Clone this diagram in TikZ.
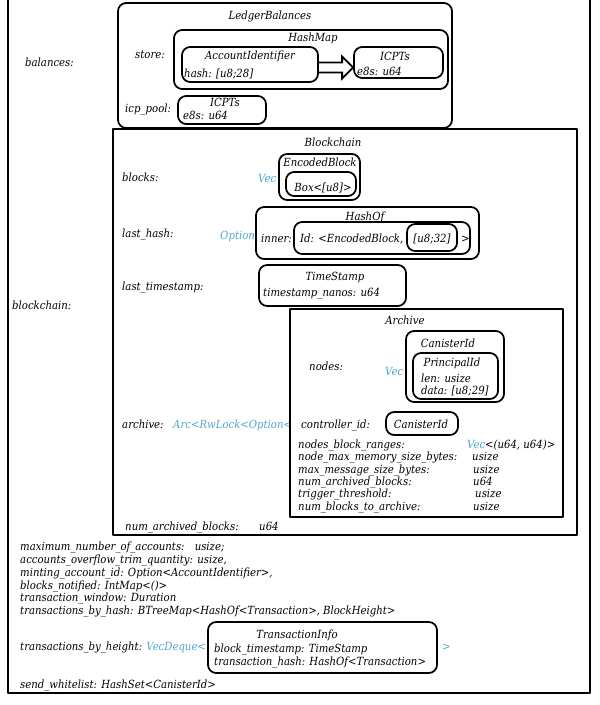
\documentclass[tikz,border=0pt]{standalone}
\usepackage{fontspec}
\setmainfont{DejaVu Serif Condensed}
\usetikzlibrary{positioning, fit, calc}
\definecolor{typeblue}{RGB}{80,165,205}
\tikzset{
    every node/.style={font=\fontsize{9.6}{11}\selectfont\itshape}, % All labels in italics
    field/.style={anchor=base west, inner sep=0pt}, % Field names and values
    title/.style={anchor=base, inner sep=0pt}, % Struct names
    wrap/.style={field, text=typeblue}, % Generic wrappers (Vec, Option, ...)
    rbox/.style={draw, line width=1.5pt, rounded corners=7pt, inner sep=0pt},
    sbox/.style={draw, line width=1.5pt, inner sep=0pt},
}

\begin{document}
\begin{tikzpicture}[
    x=0.03cm, y=-0.03cm, % one unit = one pixel of the reference
    line join=round
]
    \useasboundingbox (0,0) rectangle (600,705);

    % --- Ledger frame ---
    \node[sbox, fit={(8,-4) (590,693)}] (ledger) {};

    % --- LedgerBalances ---
    \node[field] (balances) at (25,67) {balances:};
    \node[rbox, fit={(118,3) (452,128)}] (ledgerbal) {};
    \node[title] (ledgerbalT) at (270,20) {LedgerBalances};
    \node[field] (store) at (135,59) {store:};
    \node[rbox, fit={(174,30) (448,89)}] (hashmap) {};
    \node[title] (hashmapT) at (313,42) {HashMap};
    \node[rbox, fit={(182,47) (318,82)}] (acct) {};
    \node[title] (acctT) at (250,60) {AccountIdentifier};
    \node[field] (acctH) at (184,78) {hash: [u8;28]};
    \node[rbox, fit={(354,47) (443,78)}] (icpt) {};
    \node[title] (icptT) at (395,61) {ICPTs};
    \node[field] (icptE) at (357,76) {e8s: u64};
    \node[field] (pool) at (125,113) {icp\_pool:};
    \node[rbox, fit={(178,96) (266,124)}] (poolbox) {};
    \node[title] (poolT) at (225,107) {ICPTs};
    \node[field] (poolE) at (183,120) {e8s: u64};

    % key -> value
    \coordinate (tip) at ($(icpt.west)+(0,5)$);
    \draw[line width=1.5pt, line join=miter]
        ($(acct.east|-tip)+(0,-5)$) -- ($(tip)+(-11,-5)$) -- ($(tip)+(-11,-11)$)
        -- (tip) -- ($(tip)+(-11,11)$) -- ($(tip)+(-11,5)$) -- ($(acct.east|-tip)+(0,5)$);

    % --- Blockchain ---
    \node[field] (blockchain) at (12,309) {blockchain:};
    \node[sbox, fit={(113,129) (577,535)}] (chain) {};
    \node[title] (chainT) at (333,146) {Blockchain};

    \node[field] (blocks) at (122,181) {blocks:};
    \node[wrap] (blocksV) at (258,182) {Vec};
    \node[rbox, fit={(279,154) (360,200)}] (encblk) {};
    \node[title] (encblkT) at (320,166) {EncodedBlock};
    \node[rbox, fit={(286,172) (356,196)}] (boxu8) {};
    \node[title] (boxu8T) at (323,191) {Box<[u8]>};

    \node[field] (lasthash) at (122,237) {last\_hash:};
    \node[wrap] (lasthashO) at (220,239) {Option};
    \node[rbox, fit={(256,207) (479,259)}] (hashof) {};
    \node[title] (hashofT) at (365,220) {HashOf};
    \node[field] (inner) at (261,242) {inner:};
    \node[rbox, fit={(294,222) (470,254)}] (innerbox) {};
    \node[field] (innerId) at (300,242) {Id: <EncodedBlock,};
    \node[rbox, fit={(407,224) (457,251)}] (u832) {};
    \node[title] (u832T) at (432,242) {[u8;32]};
    \node[field] (innerEnd) at (461,242) {>};

    \node[field] (lastts) at (122,290) {last\_timestamp:};
    \node[rbox, fit={(259,265) (406,306)}] (tstamp) {};
    \node[title] (tstampT) at (335,280) {TimeStamp};
    \node[field] (tstampN) at (263,296) {timestamp\_nanos: u64};

    % --- Archive ---
    \node[field] (archive) at (122,428) {archive:};
    \node[wrap] (archiveW) at (173,428) {Arc<RwLock<Option<};
    \node[sbox, fit={(290,309) (563,517)}] (arch) {};
    \node[title] (archT) at (405,324) {Archive};

    \node[field] (nodes) at (309,370) {nodes:};
    \node[wrap] (nodesV) at (385,375) {Vec};
    \node[rbox, fit={(406,331) (504,402)}] (canid) {};
    \node[title] (canidT) at (448,347) {CanisterId};
    \node[rbox, fit={(413,353) (498,399)}] (princ) {};
    \node[title] (princT) at (452,366) {PrincipalId};
    \node[field] (princL) at (421,382) {len: usize};
    \node[field] (princD) at (421,394) {data: [u8;29]};

    \node[field] (ctrl) at (301,428) {controller\_id:};
    \node[rbox, fit={(386,412) (458,435)}] (ctrlbox) {};
    \node[title] (ctrlT) at (421,428) {CanisterId};

    \node[field] (f1) at (298,448) {nodes\_block\_ranges:};
    \node[field] (f2) at (298,460.5) {node\_max\_memory\_size\_bytes:};
    \node[field] (f3) at (298,473) {max\_message\_size\_bytes:};
    \node[field] (f4) at (298,485) {num\_archived\_blocks:};
    \node[field] (f5) at (298,497.5) {trigger\_threshold:};
    \node[field] (f6) at (298,510) {num\_blocks\_to\_archive:};
    \node[field] (v1) at (467,448) {\textcolor{typeblue}{Vec}<(u64, u64)>};
    \node[field] (v2) at (472,460.5) {usize};
    \node[field] (v3) at (473,473) {usize};
    \node[field] (v4) at (473,485) {u64};
    \node[field] (v5) at (475,497.5) {usize};
    \node[field] (v6) at (473,510) {usize};

    \node[field] (numarch) at (125,530) {num\_archived\_blocks:};
    \node[field] (numarchV) at (259,530) {u64};

    % --- Remaining fields ---
    \node[field] (maxacc) at (20,550) {maximum\_number\_of\_accounts:\hspace{0.9em}usize;};
    \node[field] (trim) at (20,563) {accounts\_overflow\_trim\_quantity: usize,};
    \node[field] (minting) at (20,576) {minting\_account\_id: Option<AccountIdentifier>,};
    \node[field] (notified) at (20,589) {blocks\_notified: IntMap<()>};
    \node[field] (window) at (20,601) {transaction\_window: Duration};
    \node[field] (byhash) at (20,614) {transactions\_by\_hash: BTreeMap<HashOf<Transaction>, BlockHeight>};

    \node[field] (byheight) at (20,650) {transactions\_by\_height: \textcolor{typeblue}{VecDeque<}};
    \node[rbox, fit={(208,622) (437,673)}] (txinfo) {};
    \node[title] (txinfoT) at (297,638) {TransactionInfo};
    \node[field] (txts) at (214,652) {block\_timestamp: TimeStamp};
    \node[field] (txhash) at (214,665) {transaction\_hash: HashOf<Transaction>};
    \node[wrap] (byheightEnd) at (442,650) {>};

    \node[field] (whitelist) at (20,688) {send\_whitelist: HashSet<CanisterId>};

\end{tikzpicture}
\end{document}
